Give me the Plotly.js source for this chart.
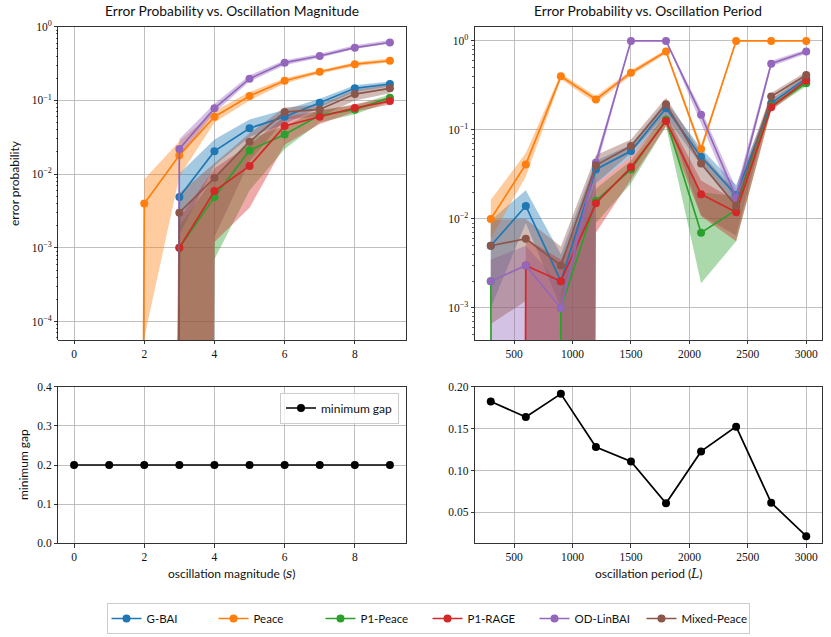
<!DOCTYPE html>
<html>
<head>
<meta charset="utf-8">
<script src="https://cdn.plot.ly/plotly-3.0.1.min.js"></script>
<style>
  html, body { margin: 0; padding: 0; background: #fff; }
  #chart { width: 831px; height: 637px; }
</style>
</head>
<body>
<div id="chart"></div>
<script>
// x values
const magnitudes = [0, 1, 2, 3, 4, 5, 6, 7, 8, 9];
const periods = [300, 600, 900, 1200, 1500, 1800, 2100, 2400, 2700, 3000];

const methods = ['G-BAI', 'Peace', 'P1-Peace', 'P1-RAGE', 'OD-LinBAI', 'Mixed-Peace'];
const colors = ['#1f77b4', '#ff7f0e', '#2ca02c', '#d62728', '#9467bd', '#8c564b'];
const bandColors = ['rgba(31,119,180,0.4)', 'rgba(255,127,14,0.4)', 'rgba(44,160,44,0.4)',
                    'rgba(214,39,40,0.4)', 'rgba(148,103,189,0.4)', 'rgba(140,86,75,0.4)'];

// error probability vs oscillation magnitude (mean, lower, upper)
const magGBAI = [0, 0, 0, 0.0049, 0.0205, 0.042, 0.06, 0.093, 0.146, 0.167];
const magGBAILo = [0, 0, 0, 0.0015, 0.013, 0.032, 0.048, 0.08, 0.13, 0.155];
const magGBAIHi = [0, 0, 0, 0.0102, 0.0295, 0.055, 0.075, 0.105, 0.16, 0.18];
const magPeace = [0, 0, 0.004, 0.018, 0.06, 0.115, 0.185, 0.245, 0.31, 0.345];
const magPeaceLo = [0, 0, 0.00006, 0.0093, 0.05, 0.10, 0.17, 0.23, 0.29, 0.33];
const magPeaceHi = [0, 0, 0.0085, 0.028, 0.072, 0.13, 0.20, 0.26, 0.33, 0.37];
const magP1Peace = [0, 0, 0, 0.001, 0.0049, 0.021, 0.0345, 0.063, 0.075, 0.109];
const magP1PeaceLo = [0, 0, 0, 0, 0.0007, 0.006, 0.022, 0.05, 0.065, 0.095];
const magP1PeaceHi = [0, 0, 0, 0.002, 0.009, 0.03, 0.045, 0.075, 0.085, 0.12];
const magP1RAGE = [0, 0, 0, 0.001, 0.0059, 0.0129, 0.045, 0.06, 0.079, 0.098];
const magP1RAGELo = [0, 0, 0, 0, 0.0012, 0.0035, 0.025, 0.048, 0.07, 0.088];
const magP1RAGEHi = [0, 0, 0, 0.0025, 0.012, 0.025, 0.06, 0.072, 0.09, 0.11];
const magODLinBAI = [0, 0, 0, 0.022, 0.078, 0.197, 0.325, 0.40, 0.52, 0.61];
const magODLinBAILo = [0, 0, 0, 0.017, 0.068, 0.18, 0.30, 0.38, 0.50, 0.59];
const magODLinBAIHi = [0, 0, 0, 0.03, 0.09, 0.22, 0.35, 0.43, 0.56, 0.66];
const magMixed = [0, 0, 0, 0.003, 0.0089, 0.0275, 0.0695, 0.0755, 0.122, 0.146];
const magMixedLo = [0, 0, 0, 0, 0.0014, 0.015, 0.055, 0.06, 0.10, 0.125];
const magMixedHi = [0, 0, 0, 0.0055, 0.014, 0.036, 0.08, 0.088, 0.14, 0.165];

// error probability vs oscillation period (mean, lower, upper)
const perGBAI = [0.005, 0.014, 0.002, 0.036, 0.058, 0.175, 0.05, 0.0186, 0.20, 0.38];
const perGBAILo = [0.001, 0.009, 0.001, 0.025, 0.05, 0.14, 0.04, 0.014, 0.18, 0.35];
const perGBAIHi = [0.0097, 0.021, 0.004, 0.045, 0.068, 0.21, 0.062, 0.024, 0.22, 0.41];
const perPeace = [0.01, 0.041, 0.40, 0.22, 0.44, 0.76, 0.061, 1, 1, 1];
const perPeaceLo = [0.006, 0.03, 0.37, 0.20, 0.41, 0.72, 0.055, 1, 1, 1];
const perPeaceHi = [0.0164, 0.055, 0.43, 0.24, 0.47, 0.80, 0.068, 1, 1, 1];
const perP1Peace = [0.002, 0, 0.001, 0.016, 0.036, 0.13, 0.007, 0.0126, 0.186, 0.334];
const perP1PeaceLo = [0.001, 0, 0, 0.009, 0.025, 0.11, 0.0019, 0.0056, 0.17, 0.31];
const perP1PeaceHi = [0.003, 0, 0.0015, 0.022, 0.045, 0.15, 0.02, 0.018, 0.20, 0.36];
const perP1RAGE = [0, 0.003, 0.002, 0.015, 0.038, 0.126, 0.019, 0.0119, 0.18, 0.36];
const perP1RAGELo = [0, 0, 0, 0.007, 0.028, 0.11, 0.0107, 0.0056, 0.165, 0.33];
const perP1RAGEHi = [0, 0.006, 0.0035, 0.025, 0.05, 0.15, 0.027, 0.016, 0.20, 0.39];
const perODLinBAI = [0.002, 0.003, 0.001, 0.043, 1, 1, 0.148, 0.0174, 0.556, 0.76];
const perODLinBAILo = [0, 0, 0, 0.035, 1, 1, 0.12, 0.014, 0.52, 0.72];
const perODLinBAIHi = [0.0035, 0.005, 0.0018, 0.05, 1, 1, 0.17, 0.022, 0.60, 0.80];
const perMixed = [0.005, 0.006, 0.003, 0.040, 0.066, 0.195, 0.042, 0.014, 0.237, 0.415];
const perMixedLo = [0.00066, 0.0012, 0, 0.025, 0.055, 0.15, 0.011, 0.0065, 0.21, 0.38];
const perMixedHi = [0.0098, 0.01, 0.0049, 0.052, 0.078, 0.23, 0.055, 0.02, 0.26, 0.45];

// minimum gap
const gapByMagnitude = [0.2, 0.2, 0.2, 0.2, 0.2, 0.2, 0.2, 0.2, 0.2, 0.2];
const gapByPeriod = [0.1824, 0.164, 0.1916, 0.128, 0.1108, 0.0608, 0.1228, 0.1524, 0.0616, 0.0216];

const magSeries = [
    [magGBAI, magGBAILo, magGBAIHi], [magPeace, magPeaceLo, magPeaceHi],
    [magP1Peace, magP1PeaceLo, magP1PeaceHi], [magP1RAGE, magP1RAGELo, magP1RAGEHi],
    [magODLinBAI, magODLinBAILo, magODLinBAIHi], [magMixed, magMixedLo, magMixedHi]
];
const perSeries = [
    [perGBAI, perGBAILo, perGBAIHi], [perPeace, perPeaceLo, perPeaceHi],
    [perP1Peace, perP1PeaceLo, perP1PeaceHi], [perP1RAGE, perP1RAGELo, perP1RAGEHi],
    [perODLinBAI, perODLinBAILo, perODLinBAIHi], [perMixed, perMixedLo, perMixedHi]
];

// zeros can't go on a log axis: push them far below so lines drop straight down like matplotlib's clip
const LOG_FLOOR = 1e-100;
const clip = arr => arr.map(v => v > 0 ? v : LOG_FLOOR);

const W = 831, H = 637;
const px = x => x / W;
const py = y => 1 - y / H;

const serif = "'Liberation Serif', 'DejaVu Serif', serif";
const sans = 'Lato';

const bands = [];
const lines = [];
function addSeries(x, series, xa, ya, legend) {
    series.forEach((s, i) => {
        bands.push({
            x: x, y: clip(s[1]), xaxis: xa, yaxis: ya, type: 'scatter', mode: 'lines',
            line: { width: 0, color: bandColors[i] }, showlegend: false, hoverinfo: 'skip'
        });
        bands.push({
            x: x, y: clip(s[2]), xaxis: xa, yaxis: ya, type: 'scatter', mode: 'lines',
            fill: 'tonexty', fillcolor: bandColors[i],
            line: { width: 0, color: bandColors[i] }, showlegend: false, hoverinfo: 'skip'
        });
        lines.push({
            x: x, y: clip(s[0]), xaxis: xa, yaxis: ya, type: 'scatter', mode: 'lines+markers',
            name: methods[i], legendgroup: methods[i], showlegend: legend,
            line: { color: colors[i], width: 1.7 },
            marker: { color: colors[i], size: 8 }
        });
    });
}
addSeries(magnitudes, magSeries, 'x', 'y', true);
addSeries(periods, perSeries, 'x2', 'y2', false);

lines.push({
    x: magnitudes, y: gapByMagnitude, xaxis: 'x3', yaxis: 'y3', type: 'scatter',
    mode: 'lines+markers', name: 'minimum gap', legend: 'legend2',
    line: { color: '#000', width: 1.7 }, marker: { color: '#000', size: 8 }
});
lines.push({
    x: periods, y: gapByPeriod, xaxis: 'x4', yaxis: 'y4', type: 'scatter',
    mode: 'lines+markers', showlegend: false,
    line: { color: '#000', width: 1.7 }, marker: { color: '#000', size: 8 }
});

// log tick labels
function decadeTicks(lo, hi) {
    const vals = [], text = [], minor = [];
    for (let e = lo; e <= hi; e++) {
        vals.push(Math.pow(10, e));
        text.push('10<sup>' + (e < 0 ? '\u2212' + (-e) : e) + '</sup>');
    }
    for (let e = lo - 1; e <= hi; e++) {
        for (let k = 2; k <= 9; k++) minor.push(k * Math.pow(10, e));
    }
    return { vals, text, minor };
}
const tlTicks = decadeTicks(-4, 0);
const trTicks = decadeTicks(-3, 0);

function axis(extra) {
    return Object.assign({
        showline: true, linecolor: '#000', linewidth: 0.8, mirror: true,
        ticks: 'outside', ticklen: 3.5, tickwidth: 0.8, tickcolor: '#000',
        showgrid: true, gridcolor: '#b0b0b0', gridwidth: 0.8, zeroline: false,
        tickfont: { family: serif, size: 11.5, color: '#111' }
    }, extra);
}
function logAxis(t, range, dom, anchor) {
    return axis({
        type: 'log', range: range, domain: dom, anchor: anchor,
        tickmode: 'array', tickvals: t.vals, ticktext: t.text,
        minor: { tickmode: 'array', tickvals: t.minor, ticks: 'outside', ticklen: 2,
                 tickwidth: 0.6, tickcolor: '#000', showgrid: false }
    });
}

const xLeft = [px(58.3), px(405.7)];
const xRight = [px(475), px(822)];
const yTop = [py(340), py(26.7)];
const yBottom = [py(543.3), py(386.7)];

const labelFont = { family: sans, size: 12, color: '#111' };
const titleFont = { family: sans, size: 13.8, color: '#111' };

const layout = {
    width: W, height: H,
    margin: { l: 0, r: 0, t: 0, b: 0 },
    paper_bgcolor: '#fff', plot_bgcolor: '#fff',
    xaxis: axis({ domain: xLeft, anchor: 'y', range: [-0.45, 9.45], dtick: 2, tick0: 0 }),
    yaxis: logAxis(tlTicks, [-4.25, 0], yTop, 'x'),
    xaxis2: axis({ domain: xRight, anchor: 'y2', range: [165, 3135], dtick: 500, tick0: 0 }),
    yaxis2: logAxis(trTicks, [-3.36, 0.16], yTop, 'x2'),
    xaxis3: axis({ domain: xLeft, anchor: 'y3', range: [-0.45, 9.45], dtick: 2, tick0: 0 }),
    yaxis3: axis({ domain: yBottom, anchor: 'x3', range: [0, 0.4], dtick: 0.1, tickformat: '.1f' }),
    xaxis4: axis({ domain: xRight, anchor: 'y4', range: [165, 3135], dtick: 500, tick0: 0 }),
    yaxis4: axis({ domain: yBottom, anchor: 'x4', range: [0.0131, 0.2001], tick0: 0, dtick: 0.05, tickformat: '.2f' }),
    legend: {
        orientation: 'h', x: px(428), xanchor: 'center', y: py(603), yanchor: 'top',
        bgcolor: 'rgba(255,255,255,0.8)', bordercolor: '#cccccc', borderwidth: 1,
        font: { family: sans, size: 11.5, color: '#111' }, itemwidth: 30,
        entrywidth: 62, entrywidthmode: 'pixels'
    },
    legend2: {
        x: px(399), xanchor: 'right', y: py(392.5), yanchor: 'top',
        bgcolor: 'rgba(255,255,255,0.8)', bordercolor: '#cccccc', borderwidth: 1,
        font: { family: sans, size: 12, color: '#111' }
    },
    annotations: [
        { text: 'Error Probability vs. Oscillation Magnitude', x: px(232), y: py(21), xref: 'paper', yref: 'paper',
          xanchor: 'center', yanchor: 'bottom', showarrow: false, font: titleFont },
        { text: 'Error Probability vs. Oscillation Period', x: px(648), y: py(21), xref: 'paper', yref: 'paper',
          xanchor: 'center', yanchor: 'bottom', showarrow: false, font: titleFont },
        { text: 'error probability', x: px(14), y: py(183), xref: 'paper', yref: 'paper', textangle: -90,
          xanchor: 'center', yanchor: 'middle', showarrow: false, font: labelFont },
        { text: 'minimum gap', x: px(23), y: py(465), xref: 'paper', yref: 'paper', textangle: -90,
          xanchor: 'center', yanchor: 'middle', showarrow: false, font: labelFont },
        { text: 'oscillation magnitude (<span style="font-family:DejaVu Serif"><i>s</i></span>)', x: px(232), y: py(573),
          xref: 'paper', yref: 'paper', xanchor: 'center', yanchor: 'middle', showarrow: false, font: labelFont },
        { text: 'oscillation period (<span style="font-family:DejaVu Serif"><i>L</i></span>)', x: px(648), y: py(573),
          xref: 'paper', yref: 'paper', xanchor: 'center', yanchor: 'middle', showarrow: false, font: labelFont }
    ]
};

Plotly.newPlot('chart', bands.concat(lines), layout, { staticPlot: true }).catch(err => {
    console.error('Plotly error:', err);
});
</script>
</body>
</html>
